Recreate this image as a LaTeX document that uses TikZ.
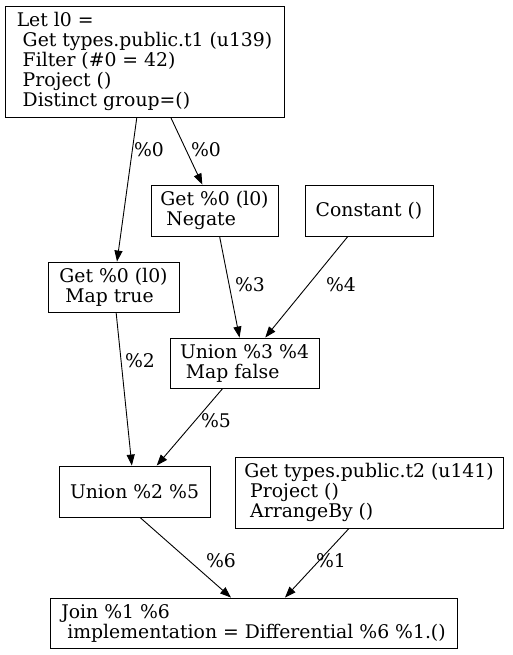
\documentclass[tikz,border=0pt]{standalone}
\usepackage{fontspec}
\setmainfont{DejaVu Serif}
\usetikzlibrary{arrows.meta,calc}
\begin{document}
\begin{tikzpicture}[x=1pt,y=-1pt,
  box/.style={draw,line width=0.9pt,inner sep=0pt,align=left,font=\fontsize{18.8}{20}\selectfont},
  edge/.style={line width=0.9pt,-{Triangle[length=11pt,width=8pt]}},
  lbl/.style={font=\fontsize{18.8}{20}\selectfont,inner sep=0pt}]
\useasboundingbox (0,0) rectangle (513,655);
\node[box,minimum width=279,minimum height=111] (let) at (144.5,61.5)
  {Let l0 =\\\ Get types.public.t1 (u139)\\\ Filter (\#0 = 42)\\\ Project ()\\\ Distinct group=()};
\node[box,minimum width=127,minimum height=51] (neg) at (214.5,210.5) {Get \%0 (l0)\\\ Negate};
\node[box,minimum width=128,minimum height=51] (const) at (369,210.5) {Constant ()};
\node[box,minimum width=131,minimum height=50] (mt) at (113.5,287) {Get \%0 (l0)\\\ Map true};
\node[box,minimum width=149,minimum height=50] (u34) at (244.5,363) {Union \%3 \%4\\\ Map false};
\node[box,minimum width=151,minimum height=51] (u25) at (134.5,491.5) {Union \%2 \%5};
\node[box,minimum width=268,minimum height=71] (t2) at (369,492.5)
  {Get types.public.t2 (u141)\\\ Project ()\\\ ArrangeBy ()};
\node[box,minimum width=407,minimum height=50] (join) at (253.5,623)
  {Join \%1 \%6\\\ implementation = Differential \%6 \%1.()};
\draw[edge] (let) -- (mt) node[lbl] at (149,150) {\%0};
\draw[edge] (let) -- (neg) node[lbl] at (206,150) {\%0};
\draw[edge] (neg) -- (u34) node[lbl] at (250,285) {\%3};
\draw[edge] (const) -- (u34) node[lbl] at (341,285) {\%4};
\draw[edge] (mt) -- (u25) node[lbl] at (140,361) {\%2};
\draw[edge] (u34) -- (u25) node[lbl] at (216,421) {\%5};
\draw[edge] ($(u25.south)+(5.5,0)$) -- ($(join.north)+(-22.5,0)$) node[lbl] at (221,561) {\%6};
\draw[edge] ($(t2.south)+(-20,0)$) -- ($(join.north)+(31.5,0)$) node[lbl] at (331,561) {\%1};
\end{tikzpicture}
\end{document}
